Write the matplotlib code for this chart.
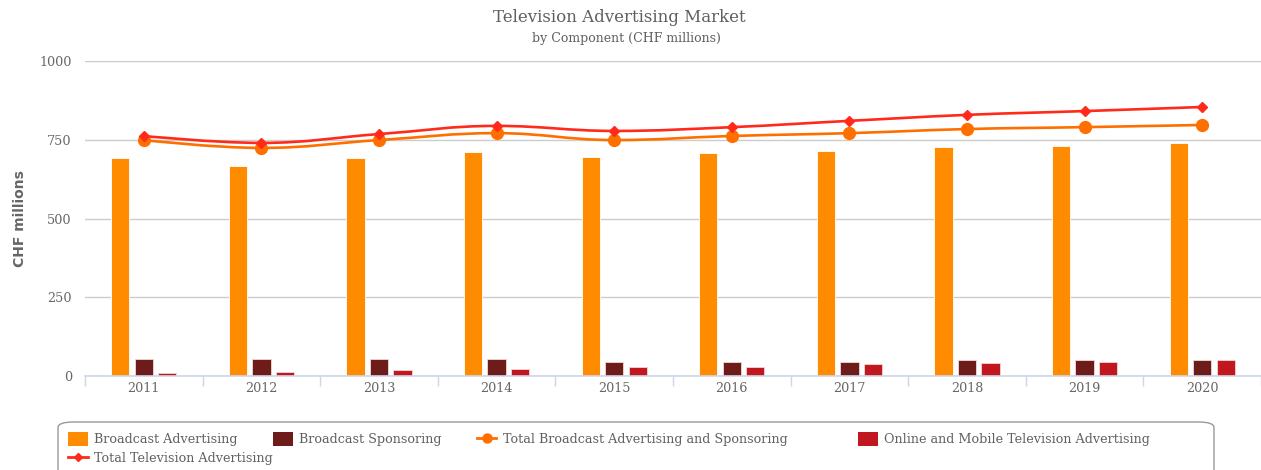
import matplotlib
matplotlib.use("Agg")
import matplotlib.pyplot as plt
import numpy as np
from matplotlib.path import Path
from matplotlib.patches import PathPatch, FancyBboxPatch
from matplotlib.lines import Line2D

years = ["2011", "2012", "2013", "2014", "2015", "2016", "2017", "2018", "2019", "2020"]
broadcast_adv = [692, 667, 692, 711, 695, 708, 714, 727, 730, 740]
broadcast_spons = [54, 53, 53, 53, 46, 46, 46, 50, 51, 50]
online_mobile = [10, 14, 18, 23, 27, 27, 37, 41, 46, 52]
total_broadcast = [749, 724, 749, 771, 749, 762, 771, 784, 790, 797]
total_tv = [762, 740, 768, 794, 778, 790, 810, 829, 841, 854]

C_ADV = "#FF8C00"
C_SPONS = "#6E1C1A"
C_ONLINE = "#C0181E"
C_TOTB = "#FF6F00"
C_TOTTV = "#FF2A1A"
TXT = "#666666"
SERIF = "DejaVu Serif"


def spline_path(xs, ys, smoothing=1.5):
    # cubic bezier through the points, control points like a highcharts spline
    n = len(xs)
    left = [None] * n
    right = [None] * n
    denom = smoothing + 1
    for i in range(n):
        x, y = xs[i], ys[i]
        if i == 0 or i == n - 1:
            left[i] = right[i] = (x, y)
            continue
        lx, ly = xs[i - 1], ys[i - 1]
        nx, ny = xs[i + 1], ys[i + 1]
        lcx = (smoothing * x + lx) / denom
        lcy = (smoothing * y + ly) / denom
        rcx = (smoothing * x + nx) / denom
        rcy = (smoothing * y + ny) / denom
        corr = (rcy - lcy) * (rcx - x) / (rcx - lcx) + y - rcy
        lcy += corr
        rcy += corr
        if lcy > ly and lcy > y:
            lcy = max(ly, y)
            rcy = 2 * y - lcy
        elif lcy < ly and lcy < y:
            lcy = min(ly, y)
            rcy = 2 * y - lcy
        if rcy > ny and rcy > y:
            rcy = max(ny, y)
            lcy = 2 * y - rcy
        elif rcy < ny and rcy < y:
            rcy = min(ny, y)
            lcy = 2 * y - rcy
        left[i] = (lcx, lcy)
        right[i] = (rcx, rcy)
    verts = [(xs[0], ys[0])]
    codes = [Path.MOVETO]
    for i in range(1, n):
        verts += [right[i - 1], left[i], (xs[i], ys[i])]
        codes += [Path.CURVE4] * 3
    return Path(verts, codes)


W, H = 1261, 470
fig = plt.figure(figsize=(W / 100, H / 100), dpi=100)
ax = fig.add_axes([85 / W, 94 / H, 1 - 85 / W, 315 / H])

x = np.arange(len(years))
bw = 0.155
ax.bar(x - 0.2, broadcast_adv, bw, color=C_ADV, edgecolor="#ffffff", linewidth=0.6, zorder=3)
ax.bar(x, broadcast_spons, bw, color=C_SPONS, edgecolor="#f2d8d8", linewidth=0.6, zorder=3)
ax.bar(x + 0.2, online_mobile, bw, color=C_ONLINE, edgecolor="#f5d5d5", linewidth=0.6, zorder=3)

for vals, col in [(total_broadcast, C_TOTB), (total_tv, C_TOTTV)]:
    ax.add_patch(PathPatch(spline_path(list(x), vals), fill=False, edgecolor=col,
                           linewidth=1.9, zorder=4, capstyle="round"))
ax.plot(x, total_broadcast, linestyle="none", marker="o", markersize=8.5, color=C_TOTB, zorder=5)
ax.plot(x, total_tv, linestyle="none", marker="D", markersize=5.5, color=C_TOTTV, zorder=5)

ax.set_xlim(-0.5, len(years) - 0.5)
ax.set_ylim(0, 1000)
ax.set_yticks([0, 250, 500, 750, 1000])
ax.yaxis.grid(True, color="#cccccc", linewidth=1)
ax.set_axisbelow(True)
for s in ["top", "right", "left"]:
    ax.spines[s].set_visible(False)
ax.spines["bottom"].set_color("#ccd6eb")
ax.spines["bottom"].set_linewidth(1.2)
ax.spines["bottom"].set_zorder(6)

ax.set_xticks(np.arange(len(years) + 1) - 0.5)
ax.set_xticklabels([])
ax.set_xticks(x, minor=True)
ax.set_xticklabels(years, minor=True, fontfamily=SERIF, fontsize=9.2, color=TXT)
ax.tick_params(axis="x", which="major", length=7, color="#ccd6eb", width=1)
ax.tick_params(axis="x", which="minor", length=0, pad=4.5)
ax.tick_params(axis="y", length=0, pad=9.5)
for t in ax.get_yticklabels():
    t.set_fontfamily(SERIF)
    t.set_fontsize(9.2)
    t.set_color(TXT)

ax.set_ylabel("CHF millions", fontfamily="DejaVu Sans", fontweight="bold",
              fontsize=10, color=TXT, labelpad=9)

fig.text(0.491, 0.963, "Television Advertising Market", ha="center", va="center",
         fontfamily=SERIF, fontsize=12, color="#5f5f5f")
fig.text(0.497, 0.918, "by Component (CHF millions)", ha="center", va="center",
         fontfamily=SERIF, fontsize=9, color="#5f5f5f")

# legend: frame drawn separately, items placed in two rows
frame = FancyBboxPatch((58 / W, -0.05), (1214 - 58) / W, (470 - 422) / H + 0.05,
                       boxstyle="round,pad=0,rounding_size=0.012", transform=fig.transFigure,
                       facecolor="white", edgecolor="#999999", linewidth=1, zorder=0)
fig.patches.append(frame)

h_adv = plt.Rectangle((0, 0), 1, 1, facecolor=C_ADV)
h_spons = plt.Rectangle((0, 0), 1, 1, facecolor=C_SPONS)
h_online = plt.Rectangle((0, 0), 1, 1, facecolor=C_ONLINE)
h_totb = Line2D([], [], color=C_TOTB, linewidth=2, marker="o", markersize=6.5)
h_tottv = Line2D([], [], color=C_TOTTV, linewidth=2, marker="D", markersize=4.5)
leg_kw = dict(frameon=False, prop={"family": SERIF, "size": 9.2}, labelcolor="#606060",
              handlelength=1.55, handleheight=1.35, handletextpad=0.5, borderpad=0,
              borderaxespad=0)
fig.legend([h_adv, h_spons, h_totb],
           ["Broadcast Advertising", "Broadcast Sponsoring",
            "Total Broadcast Advertising and Sponsoring"],
           ncol=3, loc="center left", bbox_to_anchor=(68 / W, 1 - 439 / H),
           columnspacing=2.75, **leg_kw)
fig.legend([h_online], ["Online and Mobile Television Advertising"],
           loc="center left", bbox_to_anchor=(858 / W, 1 - 439 / H), **leg_kw)
fig.legend([h_tottv], ["Total Television Advertising"], loc="center left",
           bbox_to_anchor=(68 / W, 1 - 458 / H), **leg_kw)

fig.savefig("out.png", dpi=100)
